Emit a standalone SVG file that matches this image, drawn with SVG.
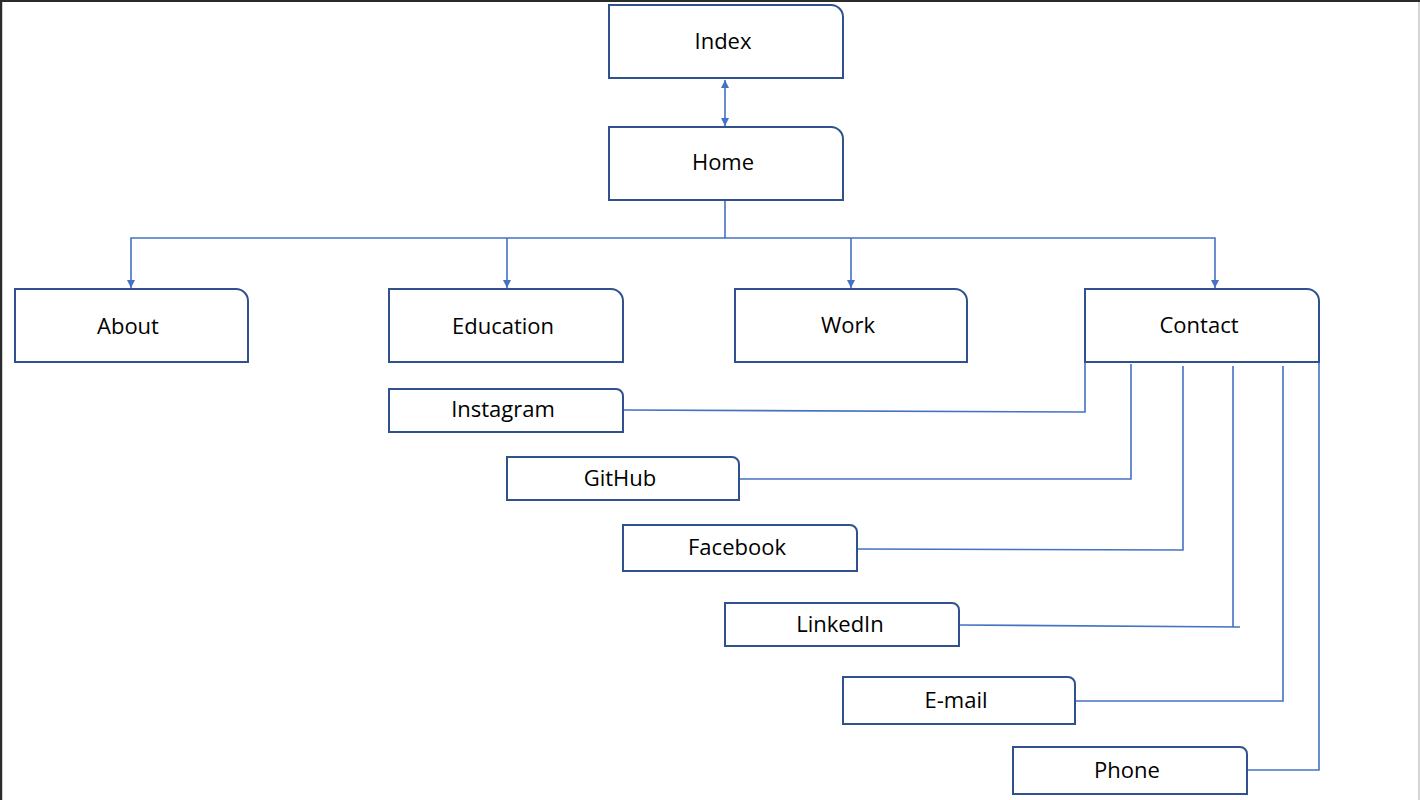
<svg xmlns="http://www.w3.org/2000/svg" width="1420" height="800" viewBox="0 0 1420 800">
<style>
.n{fill:#fff;stroke:#2F528F;stroke-width:2}
.t{font-family:"Open Sans","Noto Sans",sans-serif;font-size:22px;fill:#000;text-anchor:middle}
.c{fill:none;stroke:#4472C4;stroke-width:1.6}
</style>
<defs>
<marker id="ah" viewBox="0 0 10 10" refX="10" refY="5" markerWidth="8" markerHeight="8" markerUnits="userSpaceOnUse" orient="auto-start-reverse"><path d="M0,0 L10,5 L0,10 Z" fill="#4472C4"/></marker>
</defs>
<rect x="0" y="0" width="1420" height="800" fill="#fff"/>
<rect x="0" y="0" width="1420" height="2" fill="#2b2b2b"/>
<rect x="0" y="0" width="2" height="800" fill="#2b2b2b"/>
<rect x="2" y="2" width="1" height="798" fill="#d0d0d0"/>
<rect x="1418" y="2" width="2" height="798" fill="#d4d4d4"/>
<g id="connectors">
<line class="c" x1="725" y1="80" x2="725" y2="126" marker-start="url(#ah)" marker-end="url(#ah)"/>
<path class="c" d="M725,201 V238"/>
<path class="c" d="M131,288 V238 H1215 V288" marker-end="url(#ah)" marker-start="url(#ah)"/>
<path class="c" d="M507,238 V288" marker-end="url(#ah)"/>
<path class="c" d="M851,238 V288" marker-end="url(#ah)"/>
<path class="c" d="M624,410 L1085,412 V363"/>
<path class="c" d="M740,479 H1131 V364"/>
<path class="c" d="M858,549 L1183,550 V366"/>
<path class="c" d="M960,625 L1240,627 M1233,627 V366"/>
<path class="c" d="M1076,701 H1283 V366"/>
<path class="c" d="M1248,770 H1319 V363"/>
</g>
<g id="index"><path class="n" d="M609,5 H831 A12,12 0 0 1 843,17 V78 H609 Z"/><text class="t" x="723" y="49">Index</text></g>
<g id="home"><path class="n" d="M609,127 H831 A12,12 0 0 1 843,139 V200 H609 Z"/><text class="t" x="723" y="170">Home</text></g>
<g id="about"><path class="n" d="M15,289 H236 A12,12 0 0 1 248,301 V362 H15 Z"/><text class="t" x="128" y="334">About</text></g>
<g id="education"><path class="n" d="M389,289 H611 A12,12 0 0 1 623,301 V362 H389 Z"/><text class="t" x="503" y="334">Education</text></g>
<g id="work"><path class="n" d="M735,289 H955 A12,12 0 0 1 967,301 V362 H735 Z"/><text class="t" x="848" y="333">Work</text></g>
<g id="contact"><path class="n" d="M1085,289 H1307 A12,12 0 0 1 1319,301 V362 H1085 Z"/><text class="t" x="1199" y="333">Contact</text></g>
<g id="instagram"><path class="n" d="M389,389 H616 A7,7 0 0 1 623,396 V432 H389 Z"/><text class="t" x="503" y="417">Instagram</text></g>
<g id="github"><path class="n" d="M507,457 H732 A7,7 0 0 1 739,464 V500 H507 Z"/><text class="t" x="620" y="486">GitHub</text></g>
<g id="facebook"><path class="n" d="M623,525 H850 A7,7 0 0 1 857,532 V571 H623 Z"/><text class="t" x="737" y="555">Facebook</text></g>
<g id="linkedin"><path class="n" d="M725,603 H952 A7,7 0 0 1 959,610 V646 H725 Z"/><text class="t" x="840" y="632">LinkedIn</text></g>
<g id="email"><path class="n" d="M843,677 H1068 A7,7 0 0 1 1075,684 V724 H843 Z"/><text class="t" x="956" y="708">E-mail</text></g>
<g id="phone"><path class="n" d="M1013,747 H1240 A7,7 0 0 1 1247,754 V794 H1013 Z"/><text class="t" x="1127" y="778">Phone</text></g>
</svg>
